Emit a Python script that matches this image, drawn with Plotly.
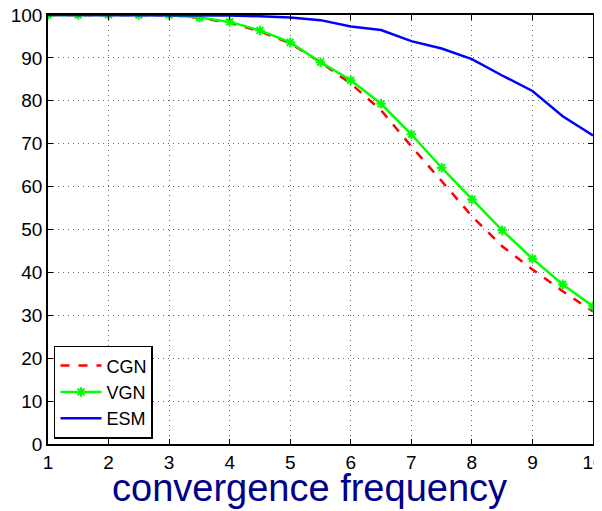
import plotly.graph_objects as go

# frequência de convergência (eixo x) e taxas (%)
freq = [1, 1.5, 2, 2.5, 3, 3.5, 4, 4.5, 5, 5.5, 6, 6.5, 7, 7.5, 8, 8.5, 9, 9.5, 10]
cgn = [100, 100, 100, 100, 100, 99.3, 98.2, 96.2, 93.4, 89.0, 84.0, 77.8, 69.4,
       61.3, 53.1, 46.1, 40.7, 35.6, 30.9]
vgn = [100, 100, 100, 100, 100, 99.4, 98.4, 96.4, 93.6, 89.0, 84.8, 79.3, 72.2,
       64.4, 57.0, 49.8, 43.2, 37.2, 32.1]
esm = [100, 100, 100, 100, 100, 100, 99.9, 99.7, 99.4, 98.8, 97.3, 96.5, 93.9,
       92.2, 89.7, 85.9, 82.3, 76.4, 71.9]

x_ticks = list(range(1, 11))
y_ticks = list(range(0, 101, 10))

FONT = "Liberation Sans, Arial, sans-serif"

fig = go.Figure()
fig.add_trace(go.Scatter(
    x=freq, y=cgn, name="CGN", mode="lines",
    line=dict(color="#ff0000", width=2.5, dash="dash"),
))
fig.add_trace(go.Scatter(
    x=freq, y=vgn, name="VGN", mode="lines+markers",
    line=dict(color="#00ff00", width=2.5),
    marker=dict(symbol="asterisk-open", size=8, color="#00ff00",
                line=dict(color="#00ff00", width=2)),
))
fig.add_trace(go.Scatter(
    x=freq, y=esm, name="ESM", mode="lines",
    line=dict(color="#0000ff", width=2.5),
))

axis_common = dict(
    showline=True, linecolor="#000000", linewidth=1.5, mirror="ticks",
    ticks="inside", ticklen=5, tickcolor="#000000",
    showgrid=True, gridcolor="#666666", griddash="1px,4px", gridwidth=1,
    zeroline=False, automargin=False, ticklabeloverflow="allow",
    tickfont=dict(size=19, color="#000000", family=FONT),
)
fig.update_xaxes(range=[1, 10], tickvals=x_ticks, **axis_common)
fig.update_yaxes(range=[0, 100], tickvals=y_ticks, **axis_common)

# título do eixo x como anotação, para controlar a posição exata
fig.add_annotation(
    text="convergence frequency", xref="paper", yref="paper",
    x=0.479, y=-0.103, xanchor="center", yanchor="middle", showarrow=False,
    font=dict(size=38, color="#00008b", family=FONT),
)

# a página tem margem de 8 px no body: figura reduzida para caber na janela
fig.update_layout(
    width=594, height=503,
    margin=dict(l=40, r=9, t=7, b=67),
    paper_bgcolor="#ffffff", plot_bgcolor="#ffffff",
    font=dict(family=FONT, size=19, color="#000000"),
    showlegend=True,
    legend=dict(x=0.011, y=0.012, xanchor="left", yanchor="bottom",
                bgcolor="#ffffff", bordercolor="#000000", borderwidth=1.5,
                font=dict(size=18, family=FONT), tracegroupgap=0,
                itemwidth=41),
)

fig.write_html("out.html")
